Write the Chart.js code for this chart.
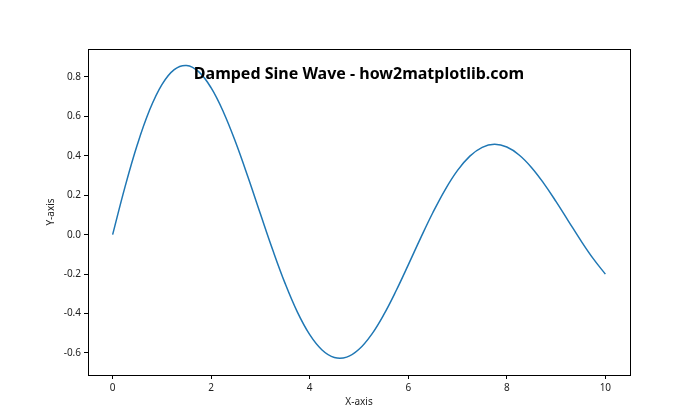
<!DOCTYPE html>
<html>
<head>
<meta charset="utf-8">
<script src="https://cdn.jsdelivr.net/npm/chart.js@4"></script>
<style>
html,body{margin:0;padding:0;background:#fff;}
#wrap{width:700px;height:420px;position:relative;}
</style>
</head>
<body>
<div id="wrap"><canvas id="c" width="700" height="420"></canvas></div>
<script>
const xValues = [0,0.25,0.5,0.75,1,1.25,1.5,1.75,2,2.25,2.5,2.75,3,3.25,3.5,3.75,4,4.25,4.5,4.75,5,5.25,5.5,5.75,6,6.25,6.5,6.75,7,7.25,7.5,7.75,8,8.25,8.5,8.75,9,9.25,9.5,9.75,10];
const yValues = [0,0.2413,0.4560,0.6323,0.7614,0.8375,0.8585,0.8261,0.7445,0.6213,0.4661,0.2899,0.1045,-0.0782,-0.2472,-0.3929,-0.5073,-0.5851,-0.6233,-0.6215,-0.5816,-0.5081,-0.4070,-0.2860,-0.1533,-0.0178,0.1123,0.2291,0.3263,0.3986,0.4431,0.4582,0.4445,0.4043,0.3413,0.2604,0.1676,0.0691,-0.0291,-0.1205,-0.2001];
const xTicks = [0,2,4,6,8,10];
const yTicks = [-0.6,-0.4,-0.2,0.0,0.2,0.4,0.6,0.8];
const titleText = "Damped Sine Wave - how2matplotlib.com";
const xLabel = "X-axis";
const yLabel = "Y-axis";

const FONT = "'Noto Sans', 'Open Sans', sans-serif";

const framePlugin = {
  id: 'frame',
  afterDatasetsDraw(chart) {
    const {ctx, chartArea: a} = chart;
    ctx.save();
    ctx.strokeStyle = '#000';
    ctx.lineWidth = 1;
    ctx.strokeRect(Math.round(a.left)+0.5, Math.round(a.top)+0.5, Math.round(a.right-a.left), Math.round(a.bottom-a.top));
    ctx.font = "bold 16px " + FONT;
    ctx.fillStyle = '#000';
    ctx.textAlign = 'center';
    ctx.textBaseline = 'middle';
    ctx.fillText(titleText, (a.left+a.right)/2, a.top + 25);
    ctx.restore();
  }
};

new Chart(document.getElementById('c'), {
  type: 'line',
  data: {
    datasets: [{
      data: xValues.map((x,i)=>({x:x,y:yValues[i]})),
      borderColor: '#1f77b4',
      borderWidth: 1.5,
      pointRadius: 0,
      fill: false,
      tension: 0.4
    }]
  },
  options: {
    responsive: false,
    animation: false,
    devicePixelRatio: 1,
    layout: {padding: {top: 49, right: 70, left: 45, bottom: 12}},
    plugins: {legend: {display: false}, tooltip: {enabled: false}},
    scales: {
      x: {
        type: 'linear',
        min: -0.5, max: 10.5,
        afterBuildTicks: s => { s.ticks = xTicks.map(v=>({value:v})); },
        afterFit: s => { s.height = 33; },
        grid: {drawOnChartArea: false, drawTicks: true, tickLength: 4, color: '#000'},
        border: {display: false},
        ticks: {color: '#222', font: {family: FONT, size: 10}, padding: 3, maxRotation: 0, callback: v => String(v)},
        title: {display: true, text: xLabel, color: '#222', font: {family: FONT, size: 10}, padding: {top: 0, bottom: 0}}
      },
      y: {
        type: 'linear',
        min: -0.712, max: 0.942,
        afterBuildTicks: s => { s.ticks = yTicks.map(v=>({value:v})); },
        afterFit: s => { s.width = 43; },
        grid: {drawOnChartArea: false, drawTicks: true, tickLength: 4, color: '#000'},
        border: {display: false},
        ticks: {color: '#222', font: {family: FONT, size: 10}, padding: 3, callback: v => v.toFixed(1)},
        title: {display: true, text: yLabel, color: '#222', font: {family: FONT, size: 10}, padding: {top: 0, bottom: 0}}
      }
    }
  },
  plugins: [framePlugin]
});
</script>
</body>
</html>
